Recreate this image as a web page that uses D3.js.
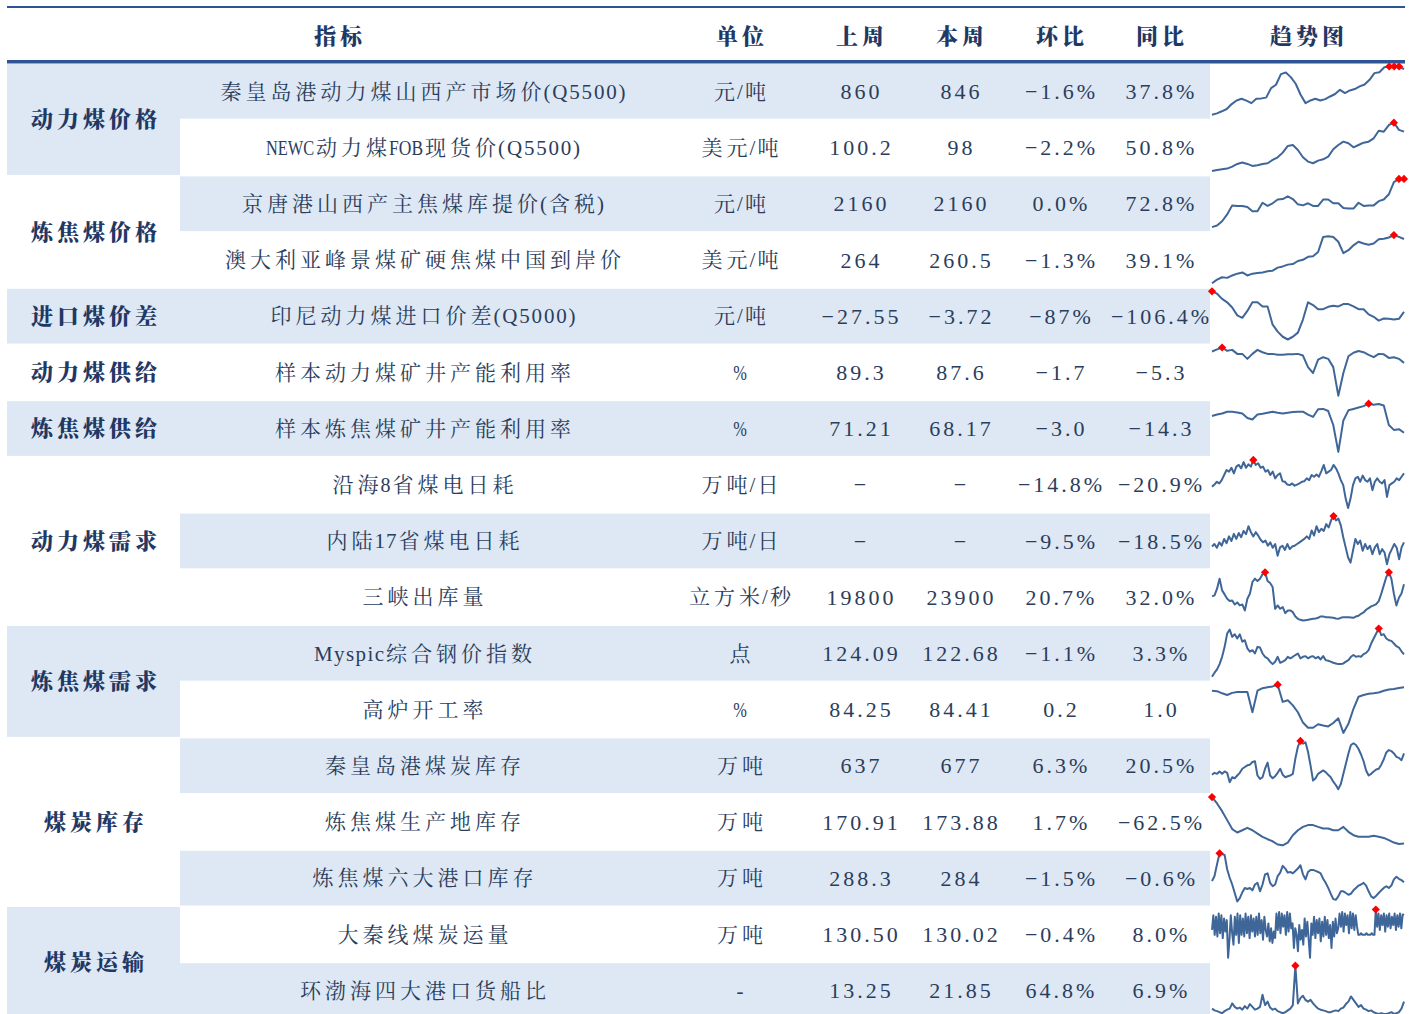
<!DOCTYPE html>
<html>
<head>
<meta charset="utf-8">
<script src="https://cdn.jsdelivr.net/npm/d3@7"></script>
<style>
  body { margin: 0; background: #fff; }
</style>
</head>
<body>
<svg id="chart" width="1416" height="1014"></svg>
<script>
const headers = ["指标", "单位", "上周", "本周", "环比", "同比", "趋势图"];

const groupNames = ["动力煤价格", "炼焦煤价格", "进口煤价差", "动力煤供给", "炼焦煤供给", "动力煤需求", "炼焦煤需求", "煤炭库存", "煤炭运输"];
const groupSpans = [2, 2, 1, 1, 1, 3, 2, 3, 2];

const indicators = [
  "秦皇岛港动力煤山西产市场价(Q5500)", "NEWC动力煤FOB现货价(Q5500)", "京唐港山西产主焦煤库提价(含税)",
  "澳大利亚峰景煤矿硬焦煤中国到岸价", "印尼动力煤进口价差(Q5000)", "样本动力煤矿井产能利用率",
  "样本炼焦煤矿井产能利用率", "沿海8省煤电日耗", "内陆17省煤电日耗", "三峡出库量",
  "Myspic综合钢价指数", "高炉开工率", "秦皇岛港煤炭库存", "炼焦煤生产地库存",
  "炼焦煤六大港口库存", "大秦线煤炭运量", "环渤海四大港口货船比"
];
const units = ["元/吨", "美元/吨", "元/吨", "美元/吨", "元/吨", "%", "%", "万吨/日", "万吨/日", "立方米/秒", "点", "%", "万吨", "万吨", "万吨", "万吨", "-"];
const lastWeek = ["860", "100.2", "2160", "264", "-27.55", "89.3", "71.21", "-", "-", "19800", "124.09", "84.25", "637", "170.91", "288.3", "130.50", "13.25"];
const thisWeek = ["846", "98", "2160", "260.5", "-3.72", "87.6", "68.17", "-", "-", "23900", "122.68", "84.41", "677", "173.88", "284", "130.02", "21.85"];
const wow = ["-1.6%", "-2.2%", "0.0%", "-1.3%", "-87%", "-1.7", "-3.0", "-14.8%", "-9.5%", "20.7%", "-1.1%", "0.2", "6.3%", "1.7%", "-1.5%", "-0.4%", "64.8%"];
const yoy = ["37.8%", "50.8%", "72.8%", "39.1%", "-106.4%", "-5.3", "-14.3", "-20.9%", "-18.5%", "32.0%", "3.3%", "1.0", "20.5%", "-62.5%", "-0.6%", "8.0%", "6.9%"];

// trend series
const qhdPriceTrend = [606, 613, 624, 636, 662, 681, 690, 680, 667, 690, 692, 696, 746, 764, 820, 828, 804, 769, 711, 667, 681, 690, 681, 688, 702, 715, 737, 720, 734, 741, 755, 765, 790, 825, 830, 856, 860, 860, 860, 846];
const newcTrend = [50.8, 52.0, 52.8, 53.6, 56.0, 59.2, 60.8, 59.2, 56.8, 57.6, 59.2, 60.0, 64.0, 67.2, 72.8, 80.8, 82.0, 76.0, 67.2, 62.0, 60.0, 63.2, 64.8, 68.0, 76.8, 82.0, 86.0, 84.0, 79.2, 82.0, 84.8, 86.0, 90.0, 99.2, 98.0, 106.0, 108.8, 100.2, 98];
const jtCokingTrend = [1250, 1280, 1360, 1490, 1660, 1650, 1650, 1630, 1550, 1550, 1710, 1650, 1700, 1770, 1780, 1830, 1780, 1680, 1660, 1700, 1650, 1650, 1770, 1770, 1700, 1700, 1610, 1600, 1600, 1710, 1650, 1660, 1660, 1740, 1770, 1870, 2100, 2160, 2160];
const peakDownsTrend = [187, 193, 197, 196, 200, 203, 205, 200, 203, 204, 205, 207, 208, 213, 215, 218, 219, 224, 226, 231, 232, 239, 264, 265, 264, 256, 237, 242, 250, 256, 253, 251, 253, 260, 261, 263, 267, 264, 260.5];
const indoSpreadTrend = [67.7, 59.4, 41.5, 29.6, 11.8, -15.6, -24.0, -0.1, 29.6, 29.6, 15.3, 15.3, -47.8, -71.6, -89.4, -98.9, -89.4, -75.1, -29.9, 29.6, 20.1, 5.8, 5.8, 14.1, 17.7, 15.3, 23.6, 23.6, 15.3, 5.8, 5.8, -12.1, -20.4, -33.5, -26.3, -27.5, -29.9, -27.55, -3.72];
const thermalUtilTrend = [92.4, 93.3, 94.1, 92.7, 93.1, 91.4, 91.4, 89.3, 91.4, 93.1, 92.1, 91.4, 91.4, 91.0, 91.0, 91.2, 91.2, 91.4, 90.7, 85.8, 83.3, 89.0, 90.0, 89.3, 85.8, 73.7, 83.3, 90.4, 91.9, 92.6, 92.1, 91.0, 90.0, 91.4, 91.2, 89.7, 90.0, 89.3, 87.6];
const cokingUtilTrend = [82.6, 83.8, 84.7, 86.2, 86.2, 85.6, 84.7, 80.8, 79.6, 83.8, 84.4, 85.3, 86.2, 85.3, 84.7, 85.3, 85.9, 86.2, 86.2, 83.8, 81.7, 88.3, 88.6, 86.8, 74.8, 51.7, 78.7, 87.4, 88.6, 89.8, 91.0, 93.1, 92.2, 92.8, 91.6, 74.8, 70.6, 71.21, 68.17];
const coastalBurnTrend = [192, 196, 201, 198, 204, 213, 222, 219, 226, 216, 228, 231, 225, 236, 226, 232, 228, 240, 231, 234, 226, 228, 219, 222, 213, 219, 207, 213, 216, 202, 201, 196, 195, 198, 194, 196, 198, 201, 202, 207, 204, 213, 210, 214, 210, 220, 231, 216, 219, 222, 231, 225, 216, 204, 195, 171, 154, 171, 195, 207, 210, 201, 212, 204, 201, 207, 186, 201, 207, 201, 198, 204, 174, 195, 198, 201, 207, 204, 210, 216];
const inlandBurnTrend = [348, 354, 345, 358, 350, 366, 356, 372, 361, 378, 366, 380, 370, 385, 377, 396, 382, 372, 382, 374, 364, 358, 362, 350, 358, 345, 354, 326, 346, 350, 340, 354, 342, 348, 350, 354, 358, 362, 366, 372, 366, 386, 374, 396, 382, 390, 385, 401, 393, 410, 420, 410, 414, 398, 370, 346, 322, 310, 338, 366, 354, 362, 338, 354, 342, 350, 330, 346, 354, 330, 342, 334, 306, 330, 342, 354, 345, 318, 346, 358];
const threeGorgesTrend = [18500, 18950, 21950, 26450, 21200, 19400, 17450, 16400, 16700, 14900, 15800, 14450, 14900, 12200, 17450, 19700, 24950, 26450, 25400, 26450, 28400, 29300, 25400, 24500, 22700, 12950, 14450, 12950, 13700, 11000, 12200, 12200, 11450, 9500, 8450, 8000, 7700, 7850, 8000, 8300, 8450, 8600, 8900, 9500, 9500, 9200, 9200, 9050, 8900, 8600, 8450, 8900, 9200, 9200, 9200, 9050, 8900, 9500, 9800, 10700, 11300, 12500, 13250, 14000, 14450, 15050, 16400, 19700, 23450, 27200, 29300, 26450, 19700, 14450, 17900, 19800, 23900];
const myspicTrend = [112.6, 114.4, 115.9, 118.3, 121.6, 126.1, 132.1, 133.9, 130.6, 131.8, 129.9, 131.8, 128.4, 129.1, 125.4, 123.9, 124.6, 123.1, 126.1, 125.8, 123.1, 121.6, 120.9, 119.4, 118.3, 119.4, 121.6, 118.9, 119.4, 120.1, 121.6, 120.9, 121.6, 122.4, 123.1, 120.9, 121.6, 121.9, 120.9, 121.6, 121.9, 120.9, 121.6, 120.4, 121.9, 120.1, 119.8, 119.4, 118.9, 118.6, 118.3, 118.3, 118.6, 119.4, 120.1, 121.6, 122.4, 121.6, 121.9, 121.6, 122.8, 123.4, 124.6, 127.6, 129.9, 132.1, 134.4, 131.4, 131.8, 129.9, 129.1, 128.8, 127.6, 126.4, 125.8, 124.09, 122.68];
const blastFurnaceTrend = [83.6, 83.5, 83.0, 82.6, 83.1, 83.3, 83.3, 83.3, 78.6, 83.6, 84.2, 84.4, 84.6, 85.0, 81.0, 81.4, 80.2, 78.6, 76.2, 75.0, 75.0, 75.8, 75.5, 75.3, 76.1, 77.2, 73.8, 75.9, 79.4, 82.2, 82.6, 82.9, 83.0, 83.2, 83.6, 83.9, 84.0, 84.25, 84.41];
const qhdStockTrend = [551, 563, 557, 571, 557, 571, 563, 507, 537, 531, 547, 563, 587, 597, 607, 611, 627, 631, 547, 527, 537, 587, 623, 547, 531, 543, 563, 587, 551, 537, 543, 547, 557, 647, 717, 751, 735, 743, 687, 607, 517, 531, 557, 567, 577, 567, 551, 537, 511, 491, 467, 497, 557, 617, 677, 727, 737, 727, 703, 671, 631, 577, 547, 557, 571, 583, 587, 611, 643, 683, 697, 691, 677, 657, 651, 637, 677];
const mineStockTrend = [463.7, 424, 376, 320, 264, 243, 257, 272, 257, 236, 216, 201, 188, 168, 163, 180, 226, 257, 278, 289, 289, 278, 268, 268, 257, 257, 278, 247, 226, 216, 216, 216, 222, 216, 209, 195, 180, 170.91, 173.88];
const portStockTrend = [286.2, 297.0, 322.2, 345.2, 343.8, 341.6, 311.4, 293.4, 279.0, 261.0, 243.0, 250.2, 262.4, 271.8, 269.6, 271.8, 266.7, 279.0, 282.6, 264.6, 279.0, 300.6, 302.7, 282.6, 275.4, 279.0, 297.0, 304.2, 318.6, 312.8, 304.2, 305.6, 302.7, 307.8, 312.8, 320.0, 300.6, 289.8, 305.6, 310.0, 310.0, 307.8, 305.6, 302.7, 291.2, 282.6, 271.8, 259.5, 248.0, 246.6, 253.8, 264.6, 264.6, 261.0, 257.4, 259.5, 266.7, 271.8, 276.8, 279.0, 282.6, 276.8, 264.6, 253.8, 250.2, 255.2, 261.0, 266.7, 271.8, 275.4, 271.8, 276.8, 289.8, 295.5, 291.2, 288.3, 284];
const daqinTrend = [121, 130, 118, 129, 117, 131, 119, 130, 116, 128, 120, 127, 104, 115, 130, 119, 112, 129, 118, 131, 113, 130, 118, 128, 117, 131, 119, 129, 116, 130, 120, 128, 117, 129, 118, 131, 119, 127, 115, 129, 121, 117, 125, 114, 122, 113, 120, 116, 131, 121, 132, 119, 131, 123, 130, 118, 132, 120, 131, 122, 125, 110, 122, 118, 108, 124, 115, 121, 112, 128, 117, 126, 115, 104, 125, 118, 129, 116, 127, 119, 128, 114, 126, 117, 129, 118, 127, 116, 124, 110, 126, 117, 128, 119, 122, 131, 123, 132, 120, 131, 124, 130, 119, 132, 122, 131, 121, 130, 123, 118, 118, 119, 118, 118, 118, 119, 118, 118, 118, 119, 118, 118, 133.5, 123, 131, 121, 130, 124, 131, 120, 130, 123, 131, 122, 129, 124, 131, 121, 130, 123, 131, 122, 130.50, 130.02];
const bohaiRatioTrend = [13.25, 11.1, 10.2, 8.9, 7.7, 10.2, 12.0, 13.3, 19.7, 15.4, 13.3, 14.6, 12.0, 16.3, 13.3, 18.9, 15.4, 12.0, 13.3, 15.4, 30.4, 17.6, 21.9, 14.6, 12.0, 13.3, 10.2, 8.9, 7.7, 8.9, 11.1, 13.3, 17.6, 66.1, 19.7, 26.2, 29.2, 24.0, 21.9, 24.0, 19.7, 16.3, 13.3, 12.0, 11.1, 10.2, 8.9, 8.9, 10.2, 11.1, 10.2, 13.3, 14.6, 18.9, 21.9, 28.3, 24.0, 19.7, 15.4, 17.6, 13.3, 12.0, 10.2, 11.1, 8.9, 7.7, 6.8, 7.7, 6.8, 6.8, 7.7, 8.9, 6.8, 7.7, 8.9, 13.25, 21.85];

const trends = [
  qhdPriceTrend, newcTrend, jtCokingTrend, peakDownsTrend, indoSpreadTrend, thermalUtilTrend,
  cokingUtilTrend, coastalBurnTrend, inlandBurnTrend, threeGorgesTrend, myspicTrend,
  blastFurnaceTrend, qhdStockTrend, mineStockTrend, portStockTrend, daqinTrend, bohaiRatioTrend
];

const BLUE_BG = "#dde8f4";
const RULE = "#2f5496";
const TEXT = "#2b3d5c";
const TEXT_BOLD = "#1f3864";
const LINE = "#3f6698";
const CJK_FONT = "'Noto Serif CJK SC', 'Noto Sans CJK SC', serif";
const LATIN_FONT = "'Liberation Serif', serif";
const HEAD_FONT = "'Noto Serif CJK SC', 'Noto Sans CJK SC', serif";

const CJK_ADV = 25;     // advance of one Chinese glyph incl. spacing
const LATIN_ADV = 12;   // half-width advance of latin glyphs
const RUN_GAP = 2;

const svg = d3.select("#chart");

const rowH = 56.2;
const top0 = 64;
const y = d3.scaleBand()
  .domain(d3.range(indicators.length))
  .range([top0, top0 + rowH * indicators.length]);

// column centres
const colX = [338, 740, 860, 960, 1060, 1160, 1307];
const groupX = 94;
const indX = 423;
const sparkLeft = 1212;
const sparkRight = 1404;

const cjkRe = /[\u3000-\u303f\u4e00-\u9fff\uff00-\uffef]/;

// mixed chinese/latin label: latin runs set half-width, narrow letters squeezed
function drawMixed(g, str, cx, cy) {
  const runs = str.match(/[\u3000-\u303f\u4e00-\u9fff\uff00-\uffef]+|[^\u3000-\u303f\u4e00-\u9fff\uff00-\uffef]+/g);
  const items = runs.map(function (r) {
    const cjk = cjkRe.test(r);
    const t = g.append("text")
      .attr("dy", "0.36em")
      .attr("fill", TEXT)
      .attr("font-family", cjk ? CJK_FONT : LATIN_FONT)
      .attr("font-size", 21)
      .attr("letter-spacing", cjk ? 4 : 0)
      .text(r);
    const natural = t.node().getComputedTextLength();
    let width, sx = 1, extra = 0;
    if (cjk) {
      width = r.length * CJK_ADV - 4;
    } else {
      const target = r.length * LATIN_ADV - 2;
      if (natural > target) {
        sx = Math.max(0.78, target / natural);
        width = natural * sx;
      } else {
        extra = r.length > 1 ? (target - natural) / (r.length - 1) : 0;
        width = r.length > 1 ? target : natural;
      }
    }
    return { t: t, width: width, sx: sx, extra: extra, cjk: cjk };
  });
  const total = d3.sum(items, d => d.width) + RUN_GAP * (items.length - 1);
  let cursor = cx - total / 2;
  items.forEach(function (it) {
    it.t.attr("letter-spacing", it.cjk ? 4 : it.extra)
      .attr("transform", "translate(" + cursor + "," + cy + ") scale(" + it.sx + ",1)");
    cursor += it.width + RUN_GAP;
  });
}

// header rules
svg.append("rect").attr("x", 7).attr("y", 6).attr("width", 1398).attr("height", 2).attr("fill", RULE);
svg.append("rect").attr("x", 7).attr("y", 60).attr("width", 1398).attr("height", 3.5).attr("fill", RULE);

svg.append("g")
  .selectAll("text")
  .data(headers)
  .join("text")
  .attr("x", (d, i) => colX[i] + 2)
  .attr("y", 36)
  .attr("dy", "0.36em")
  .attr("text-anchor", "middle")
  .attr("font-family", HEAD_FONT)
  .attr("font-weight", 900)
  .attr("font-size", 22)
  .attr("letter-spacing", 4)
  .attr("fill", TEXT_BOLD)
  .text(d => d);

// row backgrounds (odd rows shaded, trend column left white)
svg.append("g")
  .selectAll("rect")
  .data(indicators)
  .join("rect")
  .attr("x", 180)
  .attr("y", (d, i) => y(i))
  .attr("width", 1030)
  .attr("height", rowH - 1.5)
  .attr("fill", (d, i) => (i % 2 === 0 ? BLUE_BG : "#fff"));

// group cells
const groupStarts = groupSpans.map((s, i) => d3.sum(groupSpans.slice(0, i)));
const groupG = svg.append("g");
groupG.selectAll("rect")
  .data(groupNames)
  .join("rect")
  .attr("x", 7)
  .attr("y", (d, i) => y(groupStarts[i]))
  .attr("width", 173)
  .attr("height", (d, i) => groupSpans[i] * rowH - 1.5)
  .attr("fill", (d, i) => (i % 2 === 0 ? BLUE_BG : "#fff"));

groupG.selectAll("text")
  .data(groupNames)
  .join("text")
  .attr("x", groupX + 2)
  .attr("y", (d, i) => y(groupStarts[i]) + groupSpans[i] * rowH / 2 - 1)
  .attr("dy", "0.36em")
  .attr("text-anchor", "middle")
  .attr("font-family", HEAD_FONT)
  .attr("font-weight", 900)
  .attr("font-size", 22)
  .attr("letter-spacing", 4)
  .attr("fill", TEXT_BOLD)
  .text(d => d);

// indicator names and units
const body = svg.append("g");
indicators.forEach(function (d, i) {
  drawMixed(body, d, indX, y(i) + rowH / 2 - 1);
  drawMixed(body, units[i], colX[1], y(i) + rowH / 2 - 1);
});

// numeric columns
const numCols = [lastWeek, thisWeek, wow, yoy];
numCols.forEach(function (col, c) {
  body.selectAll(null)
    .data(col)
    .join("text")
    .attr("x", colX[c + 2] + 1.5)
    .attr("y", (d, i) => y(i) + rowH / 2 - 1)
    .attr("dy", "0.36em")
    .attr("text-anchor", "middle")
    .attr("font-family", LATIN_FONT)
    .attr("font-size", 22)
    .attr("letter-spacing", 3)
    .attr("fill", TEXT)
    .text(d => d.replace(/-/g, "\u2212"));
});

// sparklines
const sparkG = svg.append("g");
trends.forEach(function (series, r) {
  const x = d3.scaleLinear().domain([0, series.length - 1]).range([sparkLeft, sparkRight]);
  const ys = d3.scaleLinear()
    .domain(d3.extent(series))
    .range([y(r) + rowH - 5.5, y(r) + 2.5]);

  sparkG.append("path")
    .datum(series)
    .attr("fill", "none")
    .attr("stroke", LINE)
    .attr("stroke-width", 2)
    .attr("stroke-linejoin", "round")
    .attr("d", d3.line().x((d, i) => x(i)).y(d => ys(d)));

  const maxVal = d3.max(series);
  const peaks = series.map((v, i) => ({ v: v, i: i })).filter(p => p.v === maxVal);
  sparkG.selectAll(null)
    .data(peaks)
    .join("path")
    .attr("d", d3.symbol(d3.symbolSquare, 34))
    .attr("transform", p => "translate(" + x(p.i) + "," + ys(p.v) + ") rotate(45)")
    .attr("fill", "#ff0000");
});
</script>
</body>
</html>
